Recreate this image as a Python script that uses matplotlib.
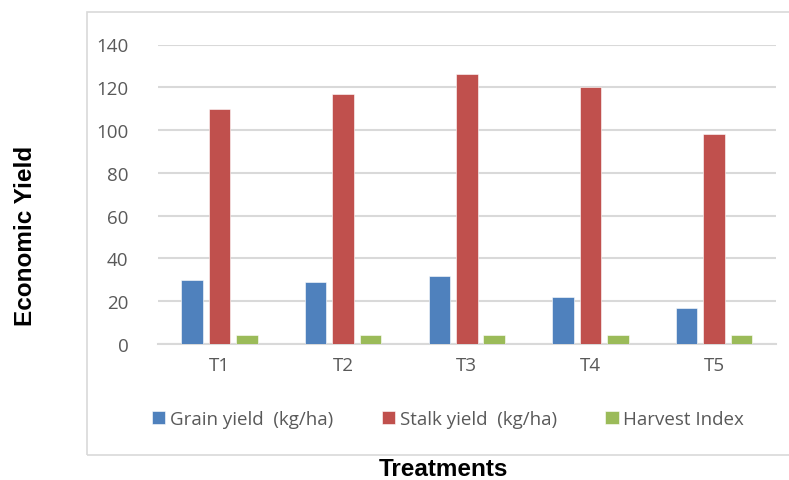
import matplotlib.pyplot as plt
import matplotlib.patches as mpatches
import numpy as np

treatments = ["T1", "T2", "T3", "T4", "T5"]
grain_yield = [30, 29, 32, 22, 17]
stalk_yield = [110, 117, 126, 120, 98]
harvest_index = [4.3, 4.4, 4.4, 4.4, 4.1]

series = [
    ("Grain yield  (kg/ha)", grain_yield, "#4f81bd"),
    ("Stalk yield  (kg/ha)", stalk_yield, "#c0504d"),
    ("Harvest Index", harvest_index, "#9bbb59"),
]

W, H = 789, 481
fig = plt.figure(figsize=(W / 100, H / 100), dpi=100)
ax = fig.add_axes([157.5 / W, 1 - 345 / H, 618.5 / W, 299.5 / H])

# outer chart frame
frame = mpatches.Rectangle((86.5 / W, 1 - 455.5 / H), 1.0, 442.5 / H,
                           transform=fig.transFigure, fill=False,
                           edgecolor="#d9d9d9", linewidth=1.2, clip_on=False)
fig.patches.append(frame)

x = np.arange(len(treatments))
width = 0.174
pitch = 0.222
for i, (label, vals, color) in enumerate(series):
    ax.bar(x + (i - 1) * pitch, vals, width, color=color, label=label,
           edgecolor="white", linewidth=0.4, zorder=3)

ax.set_xlim(-0.5, len(treatments) - 0.5)
ax.set_ylim(0, 140)
ax.set_yticks(range(0, 141, 20))
ax.set_xticks(x)
ax.set_xticklabels(treatments)
ax.yaxis.grid(True, color="#d9d9d9", linewidth=1.5, zorder=0)
for s in ["top", "right", "left"]:
    ax.spines[s].set_visible(False)
ax.spines["bottom"].set_color("#d9d9d9")
ax.spines["bottom"].set_linewidth(1.5)
ax.tick_params(length=0, labelcolor="#595959", labelsize=13.5)
ax.tick_params(axis="y", pad=21)
ax.tick_params(axis="x", pad=9)
for t in ax.get_xticklabels() + ax.get_yticklabels():
    t.set_fontfamily("Open Sans")

fig.text(25 / W, 1 - 236 / H, "Economic Yield", rotation=90, ha="center",
         va="center", fontsize=17.5, fontweight="bold", family="Liberation Sans")
fig.text(443 / W, 1 - 470 / H, "Treatments", ha="center", va="center",
         fontsize=17.5, fontweight="bold", family="Liberation Sans")

fig.legend(loc="center", bbox_to_anchor=(448 / W, 1 - 420 / H), ncol=3,
           frameon=False, handlelength=0.7, handleheight=0.7,
           handletextpad=0.25, columnspacing=2.6,
           prop={"family": "Open Sans", "size": 13.5}, labelcolor="#595959")

fig.savefig("out.png", dpi=100)
